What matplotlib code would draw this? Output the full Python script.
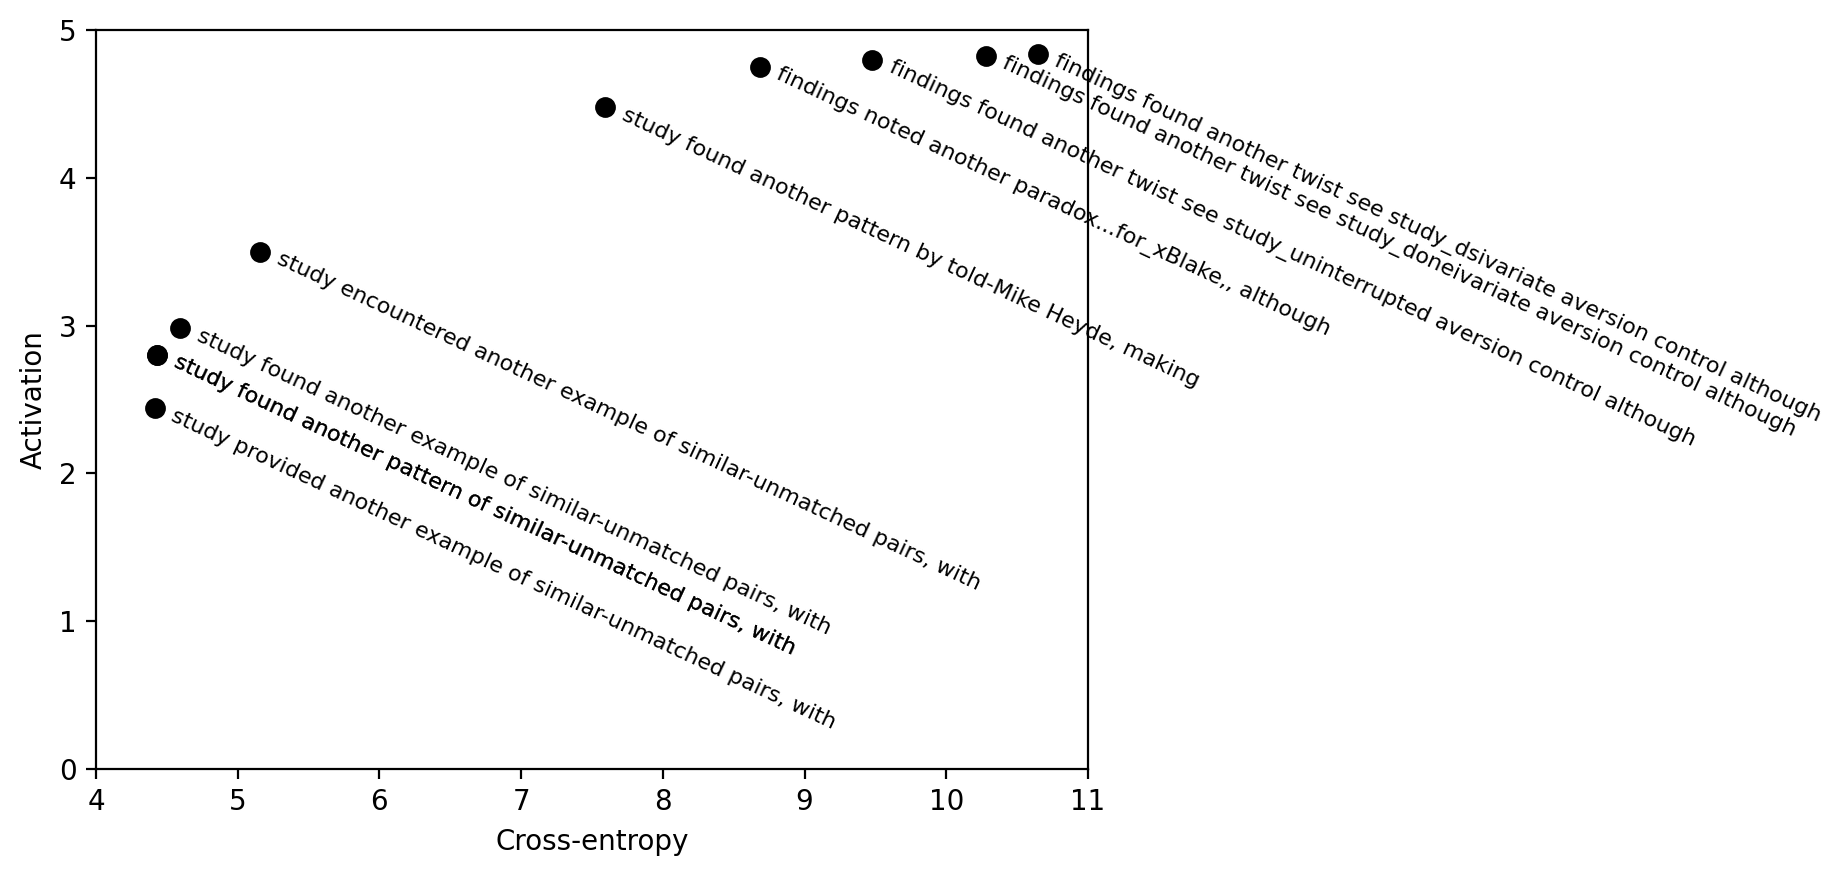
import matplotlib
matplotlib.use("Agg")
import matplotlib.pyplot as plt

x_vals = [10.645, 10.277, 9.479, 8.682, 7.595, 5.157, 4.596, 4.433, 4.433, 4.413]
y_vals = [4.836, 4.824, 4.797, 4.752, 4.477, 3.50, 2.982, 2.801, 2.801, 2.440]
labels = [
    "findings found another twist see study_dsivariate aversion control although",
    "findings found another twist see study_doneivariate aversion control although",
    "findings found another twist see study_uninterrupted aversion control although",
    "findings noted another paradox...for_xBlake,, although",
    "study found another pattern by told-Mike Heyde, making",
    "study encountered another example of similar-unmatched pairs, with",
    "study found another example of similar-unmatched pairs, with",
    "study found another pattern of similar-unmatched pairs, with",
    "study found another pattern of similar-unmatched pairs, with",
    "study provided another example of similar-unmatched pairs, with",
]

fig = plt.figure(figsize=(9.22, 4.38), dpi=200)
ax = fig.add_axes([96 / 1844, 107 / 876, 992 / 1844, 739 / 876])
ax.scatter(x_vals, y_vals, s=42, color="black", zorder=3)
for xv, yv, lab in zip(x_vals, y_vals, labels):
    ax.annotate(lab, (xv, yv), xytext=(8, 1), textcoords="offset points",
                ha="left", va="top", rotation=-25, rotation_mode="anchor",
                fontsize=8, annotation_clip=False)
ax.set_xlim(4, 11)
ax.set_ylim(0, 5)
ax.set_xlabel("Cross-entropy")
ax.set_ylabel("Activation")
fig.savefig("out.png", dpi=200)
